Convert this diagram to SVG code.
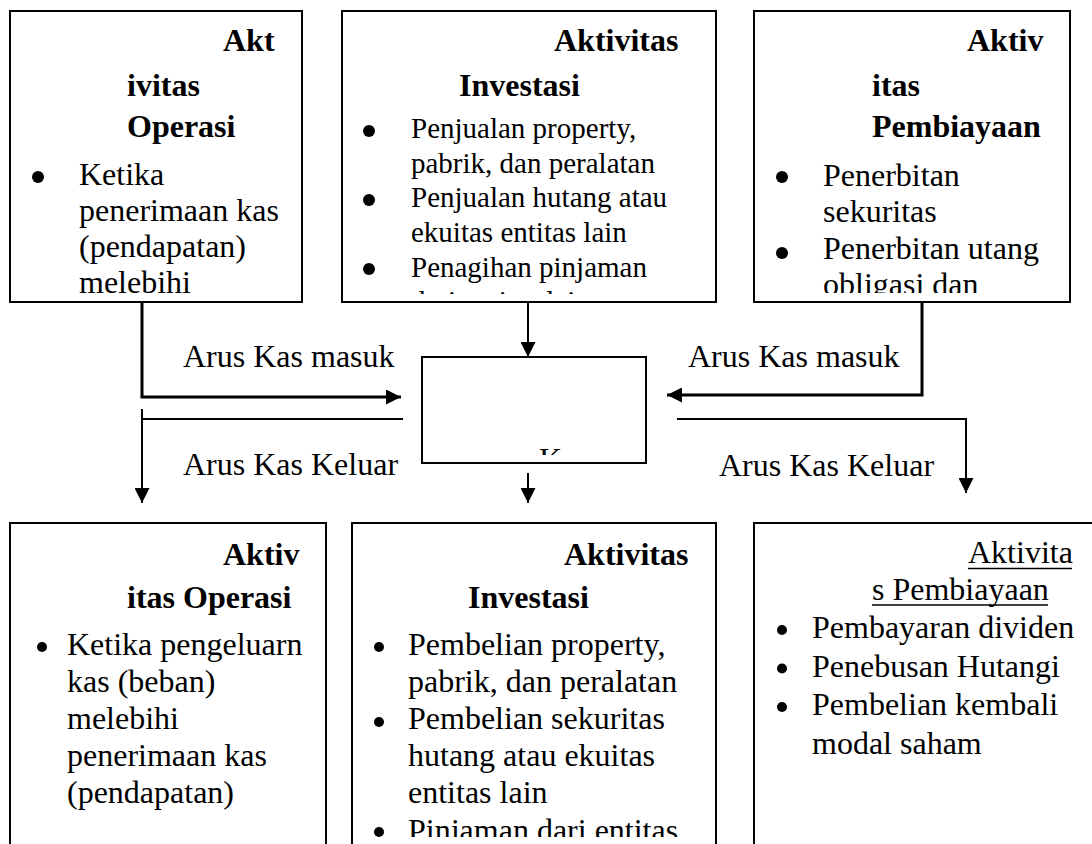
<svg xmlns="http://www.w3.org/2000/svg" width="1092" height="844" viewBox="0 0 1092 844">
<style>
.box{fill:#fff;stroke:#000;stroke-width:2}
.t{font-family:"Liberation Serif","Times New Roman",serif;font-size:32px;fill:#000}
.s{font-size:29px}
.b{font-weight:bold}
.ln{fill:none;stroke:#000;stroke-width:2}
.lnb{fill:none;stroke:#000;stroke-width:3}
.dot{fill:#000}
</style>
<defs>
<marker id="ah" markerUnits="userSpaceOnUse" markerWidth="15" markerHeight="15" refX="15" refY="7.5" orient="auto">
<path d="M0,0 L15,7.5 L0,15 z" fill="#000"/>
</marker>
<clipPath id="c1"><rect x="10" y="11" width="292" height="282"/></clipPath>
<clipPath id="c2"><rect x="342" y="11" width="374" height="283"/></clipPath>
<clipPath id="c3"><rect x="754" y="11" width="316" height="282"/></clipPath>
<clipPath id="cc"><rect x="422" y="357" width="224" height="98"/></clipPath>
<clipPath id="c5"><rect x="352" y="523" width="364" height="314"/></clipPath>
</defs>

<g id="connectors">
<path class="lnb" d="M142,302 V397 H401" marker-end="url(#ah)"/>
<path class="ln" d="M528,303 V357" marker-end="url(#ah)"/>
<path class="lnb" d="M922,302 V395 H667" marker-end="url(#ah)"/>
<path class="ln" d="M403,419 H142"/>
<path class="ln" d="M142,409 V503" marker-end="url(#ah)"/>
<path class="ln" d="M528,473 V503" marker-end="url(#ah)"/>
<path class="ln" d="M677,419 H966 V493" marker-end="url(#ah)"/>
<text class="t" x="183" y="367">Arus Kas masuk</text>
<text class="t" x="183" y="475">Arus Kas Keluar</text>
<text class="t" x="688" y="367">Arus Kas masuk</text>
<text class="t" x="719" y="476">Arus Kas Keluar</text>
</g>

<g id="top-operasi">
<rect class="box" x="10" y="11" width="292" height="291"/>
<g clip-path="url(#c1)">
<text class="t b" x="223" y="51">Akt</text>
<text class="t b" x="127" y="96">ivitas</text>
<text class="t b" x="127" y="137">Operasi</text>
<circle class="dot" cx="38" cy="177" r="6"/>
<text class="t" x="79" y="185">Ketika</text>
<text class="t" x="79" y="221">penerimaan kas</text>
<text class="t" x="79" y="257">(pendapatan)</text>
<text class="t" x="79" y="293">melebihi</text>
</g>
</g>

<g id="top-investasi">
<rect class="box" x="342" y="11" width="374" height="291"/>
<g clip-path="url(#c2)">
<text class="t b" x="554" y="51">Aktivitas</text>
<text class="t b" x="459" y="96">Investasi</text>
<circle class="dot" cx="369" cy="131" r="6"/>
<text class="t s" x="411" y="138">Penjualan property,</text>
<text class="t s" x="411" y="172.5">pabrik, dan peralatan</text>
<circle class="dot" cx="369" cy="200" r="6"/>
<text class="t s" x="411" y="207">Penjualan hutang atau</text>
<text class="t s" x="411" y="241.5">ekuitas entitas lain</text>
<circle class="dot" cx="369" cy="269" r="6"/>
<text class="t s" x="411" y="276.5">Penagihan pinjaman</text>
<text class="t s" x="411" y="311">dari entitas lain</text>
</g>
</g>

<g id="top-pembiayaan">
<rect class="box" x="754" y="11" width="316" height="291"/>
<g clip-path="url(#c3)">
<text class="t b" x="967" y="51">Aktiv</text>
<text class="t b" x="872" y="96">itas</text>
<text class="t b" x="872" y="137">Pembiayaan</text>
<circle class="dot" cx="782" cy="177" r="6"/>
<text class="t" x="823" y="185.5">Penerbitan</text>
<text class="t" x="823" y="222">sekuritas</text>
<circle class="dot" cx="782" cy="253" r="6"/>
<text class="t" x="823" y="259">Penerbitan utang</text>
<text class="t" x="823" y="295">obligasi dan</text>
</g>
</g>

<g id="center">
<rect class="box" x="422" y="357" width="224" height="106"/>
<g clip-path="url(#cc)">
<text class="t" x="539" y="470">Kas</text>
</g>
</g>

<g id="bottom-operasi">
<rect class="box" x="10" y="523" width="316" height="340"/>
<text class="t b" x="223" y="565">Aktiv</text>
<text class="t b" x="127" y="608">itas Operasi</text>
<circle class="dot" cx="42" cy="647" r="5"/>
<text class="t" x="67" y="655">Ketika pengeluarn</text>
<text class="t" x="67" y="692">kas (beban)</text>
<text class="t" x="67" y="729">melebihi</text>
<text class="t" x="67" y="766">penerimaan kas</text>
<text class="t" x="67" y="803">(pendapatan)</text>
</g>

<g id="bottom-investasi">
<rect class="box" x="352" y="523" width="364" height="340"/>
<g clip-path="url(#c5)">
<text class="t b" x="564" y="565">Aktivitas</text>
<text class="t b" x="468" y="608">Investasi</text>
<circle class="dot" cx="379" cy="647" r="5"/>
<text class="t" x="408" y="655">Pembelian property,</text>
<text class="t" x="408" y="692">pabrik, dan peralatan</text>
<circle class="dot" cx="379" cy="722" r="5"/>
<text class="t" x="408" y="729">Pembelian sekuritas</text>
<text class="t" x="408" y="766">hutang atau ekuitas</text>
<text class="t" x="408" y="803">entitas lain</text>
<circle class="dot" cx="379" cy="832" r="5"/>
<text class="t" x="408" y="841">Pinjaman dari entitas</text>
</g>
</g>

<g id="bottom-pembiayaan">
<rect class="box" x="754" y="523" width="346" height="340"/>
<text class="t" x="968" y="563">Aktivita</text>
<line x1="968" y1="568.5" x2="1072" y2="568.5" stroke="#000" stroke-width="1.5"/>
<text class="t" x="872" y="600">s Pembiayaan</text>
<line x1="872" y1="605" x2="1048" y2="605" stroke="#000" stroke-width="1.5"/>
<circle class="dot" cx="782" cy="630" r="5"/>
<text class="t" x="812" y="638">Pembayaran dividen</text>
<circle class="dot" cx="782" cy="668.5" r="5"/>
<text class="t" x="812" y="676.5">Penebusan Hutangi</text>
<circle class="dot" cx="782" cy="707" r="5"/>
<text class="t" x="812" y="715">Pembelian kembali</text>
<text class="t" x="812" y="754">modal saham</text>
</g>
</svg>
